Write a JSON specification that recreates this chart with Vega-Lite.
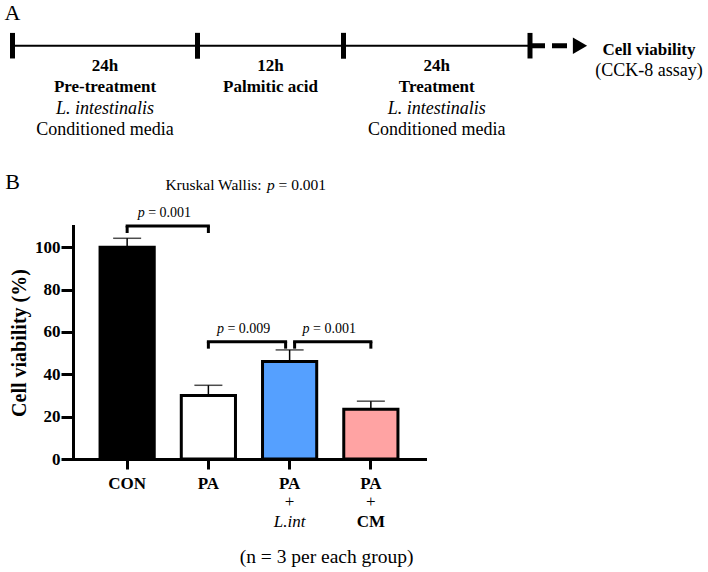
{
  "$schema": "https://vega.github.io/schema/vega-lite/v6.json",
  "width": 352,
  "height": 233,
  "autosize": {"type": "none"},
  "padding": {"left": 73, "top": 226, "right": 283, "bottom": 113},
  "background": "white",
  "config": {
    "view": {"stroke": null},
    "font": "Times New Roman, Liberation Serif, DejaVu Serif, serif",
    "text": {"font": "Times New Roman, Liberation Serif, DejaVu Serif, serif", "color": "black", "baseline": "alphabetic", "align": "center"},
    "axis": {
      "grid": false,
      "domainWidth": 3, "domainColor": "black", "domainCap": "square",
      "tickWidth": 3, "tickColor": "black",
      "labelFontSize": 17, "labelFontWeight": "bold", "labelColor": "black",
      "titleFontSize": 20, "titleFontWeight": "bold", "titleColor": "black"
    },
    "axisX": {"tickSize": 10, "labelPadding": 6, "labelAngle": 0},
    "axisY": {"tickSize": 12, "labelPadding": 1, "titlePadding": 5}
  },
  "datasets": {
    "groups": [
      {"group": "CON", "mean": 100, "err": 4.2},
      {"group": "PA", "mean": 30, "err": 4.8},
      {"group": "PA+L.int", "mean": 46, "err": 5.5, "addition": "L.int"},
      {"group": "PA+CM", "mean": 23.5, "err": 3.8, "addition": "CM"}
    ],
    "brackets": [
      {"id": "a", "from": "CON", "to": "PA", "y": 110, "stat": "= 0.001"},
      {"id": "b", "from": "PA", "to": "PA+L.int", "y": 55.4, "stat": "= 0.009"},
      {"id": "c", "from": "PA+L.int", "to": "PA+CM", "y": 55.4, "stat": "= 0.001"}
    ],
    "omnibus": [{"test": "Kruskal Wallis:", "stat": "= 0.001", "note": "(n = 3 per each group)"}],
    "stages": [
      {"stage": "pre", "start": 0, "end": 24, "duration": "24h", "name": "Pre-treatment", "agent": "L. intestinalis", "medium": "Conditioned media"},
      {"stage": "pa", "start": 24, "end": 36, "duration": "12h", "name": "Palmitic acid"},
      {"stage": "post", "start": 36, "end": 60, "duration": "24h", "name": "Treatment", "agent": "L. intestinalis", "medium": "Conditioned media"}
    ],
    "readout": [{"t": 60, "measure": "Cell viability", "method": "(CCK-8 assay)"}],
    "panels": [{"panel": "A"}, {"panel": "B"}]
  },
  "layer": [
    {
      "layer": [
        {
          "data": {"name": "groups"},
          "mark": {"type": "errorbar", "color": "black", "ticks": {"size": 28, "thickness": 1.5, "color": "black"}, "rule": {"strokeWidth": 1.5, "color": "black"}},
          "encoding": {
            "x": {"field": "group", "type": "nominal"},
            "y": {"field": "mean", "type": "quantitative", "title": "Cell viability (%)"},
            "yError": {"field": "err"}
          }
        },
        {
          "data": {"name": "groups"},
          "mark": {"type": "bar", "stroke": "black", "strokeWidth": 3},
          "encoding": {
            "x": {
              "field": "group", "type": "nominal", "title": null,
              "scale": {"domain": ["CON", "PA", "PA+L.int", "PA+CM"], "paddingInner": 0.333, "paddingOuter": 0.333},
              "axis": {"labelExpr": "split(datum.label, '+')[0]"}
            },
            "y": {
              "field": "mean", "type": "quantitative", "title": "Cell viability (%)",
              "scale": {"domain": [0, 110], "nice": false},
              "axis": {"values": [0, 20, 40, 60, 80, 100]}
            },
            "fill": {
              "field": "group", "type": "nominal",
              "scale": {"domain": ["CON", "PA", "PA+L.int", "PA+CM"], "range": ["#000000", "#ffffff", "#55a0ff", "#ffa3a3"]},
              "legend": null
            }
          }
        },
        {
          "data": {"name": "groups"},
          "transform": [{"filter": "isValid(datum.addition)"}],
          "layer": [
            {
              "mark": {"type": "text", "fontSize": 17, "dy": 48},
              "encoding": {
                "x": {"field": "group", "type": "nominal"},
                "y": {"datum": 0, "type": "quantitative"},
                "text": {"value": "+"}
              }
            },
            {
              "transform": [{"filter": "datum.addition == 'L.int'"}],
              "mark": {"type": "text", "fontSize": 17, "fontStyle": "italic", "dy": 68},
              "encoding": {
                "x": {"field": "group", "type": "nominal"},
                "y": {"datum": 0, "type": "quantitative"},
                "text": {"field": "addition"}
              }
            },
            {
              "transform": [{"filter": "datum.addition == 'CM'"}],
              "mark": {"type": "text", "fontSize": 17, "fontWeight": "bold", "dy": 68},
              "encoding": {
                "x": {"field": "group", "type": "nominal"},
                "y": {"datum": 0, "type": "quantitative"},
                "text": {"field": "addition"}
              }
            }
          ]
        },
        {
          "data": {"name": "omnibus"},
          "layer": [
            {
              "mark": {"type": "text", "fontSize": 19.5, "dx": 37, "dy": 104},
              "encoding": {
                "x": {"datum": "PA+L.int", "type": "nominal"},
                "y": {"datum": 0, "type": "quantitative"},
                "text": {"field": "note"}
              }
            },
            {
              "mark": {"type": "text", "fontSize": 15.5, "align": "left", "dx": -43, "dy": -36},
              "encoding": {
                "x": {"datum": "PA", "type": "nominal"},
                "y": {"datum": 110, "type": "quantitative"},
                "text": {"field": "test"}
              }
            },
            {
              "mark": {"type": "text", "fontSize": 15.5, "fontStyle": "italic", "align": "left", "dx": 58.6, "dy": -36},
              "encoding": {
                "x": {"datum": "PA", "type": "nominal"},
                "y": {"datum": 110, "type": "quantitative"},
                "text": {"value": "p"}
              }
            },
            {
              "mark": {"type": "text", "fontSize": 15.5, "align": "left", "dx": 70.2, "dy": -36},
              "encoding": {
                "x": {"datum": "PA", "type": "nominal"},
                "y": {"datum": 110, "type": "quantitative"},
                "text": {"field": "stat"}
              }
            }
          ]
        },
        {
          "data": {"name": "brackets"},
          "transform": [{"filter": "datum.id == 'a'"}],
          "layer": [
            {"mark": {"type": "rule", "strokeWidth": 3, "strokeCap": "square", "color": "black"},
             "encoding": {"x": {"field": "from", "type": "nominal"}, "x2": {"field": "to"}, "y": {"field": "y", "type": "quantitative"}}},
            {"mark": {"type": "rule", "strokeWidth": 3, "color": "black", "y2Offset": 7},
             "encoding": {"x": {"field": "from", "type": "nominal"}, "y": {"field": "y", "type": "quantitative"}, "y2": {"field": "y"}}},
            {"mark": {"type": "rule", "strokeWidth": 3, "color": "black", "y2Offset": 7},
             "encoding": {"x": {"field": "to", "type": "nominal"}, "y": {"field": "y", "type": "quantitative"}, "y2": {"field": "y"}}},
            {"mark": {"type": "text", "fontSize": 14, "fontStyle": "italic", "align": "left", "dx": 10.5, "dy": -9},
             "encoding": {"x": {"field": "from", "type": "nominal"}, "y": {"field": "y", "type": "quantitative"}, "text": {"value": "p"}}},
            {"mark": {"type": "text", "fontSize": 14, "align": "left", "dx": 21, "dy": -9},
             "encoding": {"x": {"field": "from", "type": "nominal"}, "y": {"field": "y", "type": "quantitative"}, "text": {"field": "stat"}}}
          ]
        },
        {
          "data": {"name": "brackets"},
          "transform": [{"filter": "datum.id == 'b'"}],
          "layer": [
            {"mark": {"type": "rule", "strokeWidth": 3, "strokeCap": "square", "color": "black", "x2Offset": -4},
             "encoding": {"x": {"field": "from", "type": "nominal"}, "x2": {"field": "to"}, "y": {"field": "y", "type": "quantitative"}}},
            {"mark": {"type": "rule", "strokeWidth": 3, "color": "black", "y2Offset": 7},
             "encoding": {"x": {"field": "from", "type": "nominal"}, "y": {"field": "y", "type": "quantitative"}, "y2": {"field": "y"}}},
            {"mark": {"type": "rule", "strokeWidth": 3, "color": "black", "y2Offset": 7, "xOffset": -4},
             "encoding": {"x": {"field": "to", "type": "nominal"}, "y": {"field": "y", "type": "quantitative"}, "y2": {"field": "y"}}},
            {"mark": {"type": "text", "fontSize": 14, "fontStyle": "italic", "align": "left", "dx": 8.5, "dy": -9},
             "encoding": {"x": {"field": "from", "type": "nominal"}, "y": {"field": "y", "type": "quantitative"}, "text": {"value": "p"}}},
            {"mark": {"type": "text", "fontSize": 14, "align": "left", "dx": 19, "dy": -9},
             "encoding": {"x": {"field": "from", "type": "nominal"}, "y": {"field": "y", "type": "quantitative"}, "text": {"field": "stat"}}}
          ]
        },
        {
          "data": {"name": "brackets"},
          "transform": [{"filter": "datum.id == 'c'"}],
          "layer": [
            {"mark": {"type": "rule", "strokeWidth": 3, "strokeCap": "square", "color": "black", "xOffset": 5},
             "encoding": {"x": {"field": "from", "type": "nominal"}, "x2": {"field": "to"}, "y": {"field": "y", "type": "quantitative"}}},
            {"mark": {"type": "rule", "strokeWidth": 3, "color": "black", "y2Offset": 7, "xOffset": 5},
             "encoding": {"x": {"field": "from", "type": "nominal"}, "y": {"field": "y", "type": "quantitative"}, "y2": {"field": "y"}}},
            {"mark": {"type": "rule", "strokeWidth": 3, "color": "black", "y2Offset": 7},
             "encoding": {"x": {"field": "to", "type": "nominal"}, "y": {"field": "y", "type": "quantitative"}, "y2": {"field": "y"}}},
            {"mark": {"type": "text", "fontSize": 14, "fontStyle": "italic", "align": "left", "dx": 13, "dy": -9},
             "encoding": {"x": {"field": "from", "type": "nominal"}, "y": {"field": "y", "type": "quantitative"}, "text": {"value": "p"}}},
            {"mark": {"type": "text", "fontSize": 14, "align": "left", "dx": 23.5, "dy": -9},
             "encoding": {"x": {"field": "from", "type": "nominal"}, "y": {"field": "y", "type": "quantitative"}, "text": {"field": "stat"}}}
          ]
        }
      ]
    },
    {
      "layer": [
        {
          "data": {"name": "stages"},
          "mark": {"type": "rule", "strokeWidth": 2, "color": "black"},
          "encoding": {
            "x": {"field": "start", "type": "quantitative", "axis": null,
                  "scale": {"domain": [0, 24, 36, 60], "range": [-60.5, 124.5, 270.5, 457], "zero": false, "nice": false}},
            "x2": {"field": "end"},
            "y": {"datum": 0, "type": "quantitative", "axis": null,
                  "scale": {"domain": [0, 4], "range": [-180.3, -95.1], "zero": false, "nice": false}}
          }
        },
        {
          "data": {"name": "stages"},
          "transform": [{"fold": ["start", "end"], "as": ["edge", "t"]}],
          "mark": {"type": "rule", "strokeWidth": 5, "color": "black"},
          "encoding": {
            "x": {"field": "t", "type": "quantitative", "axis": null},
            "y": {"datum": -0.6, "type": "quantitative", "axis": null},
            "y2": {"datum": 0.6}
          }
        },
        {
          "data": {"name": "readout"},
          "layer": [
            {
              "mark": {"type": "rule", "strokeWidth": 5, "color": "black", "strokeDash": [15, 7], "x2Offset": 42},
              "encoding": {
                "x": {"field": "t", "type": "quantitative", "axis": null},
                "x2": {"field": "t"},
                "y": {"datum": 0, "type": "quantitative", "axis": null}
              }
            },
            {
              "mark": {"type": "point", "shape": "triangle-right", "filled": true, "color": "black", "opacity": 1, "size": 270, "xOffset": 50},
              "encoding": {
                "x": {"field": "t", "type": "quantitative", "axis": null},
                "y": {"datum": 0, "type": "quantitative", "axis": null}
              }
            },
            {
              "mark": {"type": "text", "fontSize": 17, "fontWeight": "bold", "dx": 119, "dy": 9},
              "encoding": {
                "x": {"field": "t", "type": "quantitative", "axis": null},
                "y": {"datum": 0, "type": "quantitative", "axis": null},
                "text": {"field": "measure"}
              }
            },
            {
              "mark": {"type": "text", "fontSize": 18, "dx": 119, "dy": 30},
              "encoding": {
                "x": {"field": "t", "type": "quantitative", "axis": null},
                "y": {"datum": 0, "type": "quantitative", "axis": null},
                "text": {"field": "method"}
              }
            }
          ]
        },
        {
          "data": {"name": "stages"},
          "transform": [
            {"fold": ["start", "end"], "as": ["edge", "t"]},
            {"aggregate": [{"op": "mean", "field": "t", "as": "mid"}], "groupby": ["stage", "duration", "name", "agent", "medium"]}
          ],
          "layer": [
            {
              "mark": {"type": "text", "fontSize": 17, "fontWeight": "bold", "dy": 4},
              "encoding": {
                "x": {"field": "mid", "type": "quantitative", "axis": null},
                "y": {"datum": 1, "type": "quantitative", "axis": null},
                "text": {"field": "duration"}
              }
            },
            {
              "mark": {"type": "text", "fontSize": 17, "fontWeight": "bold", "dy": 4},
              "encoding": {
                "x": {"field": "mid", "type": "quantitative", "axis": null},
                "y": {"datum": 2, "type": "quantitative", "axis": null},
                "text": {"field": "name"}
              }
            },
            {
              "transform": [{"filter": "isValid(datum.agent)"}],
              "mark": {"type": "text", "fontSize": 18, "fontStyle": "italic", "dy": 4},
              "encoding": {
                "x": {"field": "mid", "type": "quantitative", "axis": null},
                "y": {"datum": 3, "type": "quantitative", "axis": null},
                "text": {"field": "agent"}
              }
            },
            {
              "transform": [{"filter": "isValid(datum.medium)"}],
              "mark": {"type": "text", "fontSize": 18, "dy": 4},
              "encoding": {
                "x": {"field": "mid", "type": "quantitative", "axis": null},
                "y": {"datum": 4, "type": "quantitative", "axis": null},
                "text": {"field": "medium"}
              }
            }
          ]
        },
        {
          "data": {"name": "panels"},
          "layer": [
            {
              "transform": [{"filter": "datum.panel == 'A'"}],
              "mark": {"type": "text", "fontSize": 22, "dy": -26},
              "encoding": {
                "x": {"datum": 0, "type": "quantitative", "axis": null},
                "y": {"datum": 0, "type": "quantitative", "axis": null},
                "text": {"field": "panel"}
              }
            },
            {
              "transform": [{"filter": "datum.panel == 'B'"}],
              "mark": {"type": "text", "fontSize": 22, "dy": 143},
              "encoding": {
                "x": {"datum": 0, "type": "quantitative", "axis": null},
                "y": {"datum": 0, "type": "quantitative", "axis": null},
                "text": {"field": "panel"}
              }
            }
          ]
        }
      ]
    }
  ],
  "resolve": {"scale": {"x": "independent", "y": "independent", "fill": "independent"}}
}
